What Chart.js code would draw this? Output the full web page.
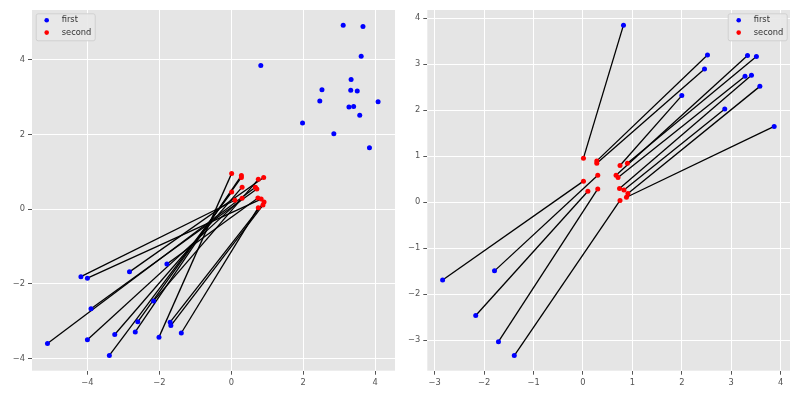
<!DOCTYPE html>
<html>
<head>
<meta charset="utf-8">
<script src="https://cdn.jsdelivr.net/npm/chart.js@4.4.0/dist/chart.umd.min.js"></script>
<style>
  body { margin: 0; background: #fff; }
  .box { position: absolute; top: 0; width: 400px; height: 400px; }
</style>
</head>
<body>
<div class="box" style="left:0"><canvas id="leftChart"></canvas></div>
<div class="box" style="left:400px"><canvas id="rightChart"></canvas></div>
<script>
// "first" points: cluster up right (not matched in the left plot)
const upperX = [3.11, 3.66, 3.61, 0.82, 2.52, 3.33, 3.32, 3.50, 2.46, 3.27, 3.40, 4.08, 1.98, 3.57, 2.85, 3.84];
const upperY = [4.93, 4.90, 4.10, 3.85, 3.20, 3.48, 3.19, 3.17, 2.90, 2.74, 2.75, 2.88, 2.31, 2.52, 2.02, 1.65];

// "second" points (same in both plots)
const secondX = [0.01, 0.28, 0.28, 0.75, 0.90, 0.30, 0.67, 0.71, 0.01, 0.10, 0.30, 0.74, 0.83, 0.91, 0.88, 0.75];
const secondY = [0.96, 0.90, 0.85, 0.80, 0.85, 0.59, 0.59, 0.54, 0.46, 0.24, 0.29, 0.30, 0.27, 0.19, 0.11, 0.04];

// left plot: lower "first" points, index i is joined to second[i]
const leftLowX = [-2.01, -2.67, -2.60, -2.16, -2.83, -3.24, -5.11, -3.90, -3.39, -4.18, -4.00, -1.79, -4.00, -1.70, -1.68, -1.39];
const leftLowY = [-3.43, -3.29, -3.02, -2.46, -1.68, -3.36, -3.60, -2.67, -3.92, -1.81, -3.50, -1.47, -1.85, -3.03, -3.12, -3.32];

// right plot: "first" points, index i is joined to second[i]
const rightFirstX = [0.82, 2.52, 2.46, 2.00, 3.51, -1.79, 3.33, 3.28, -2.84, -2.17, -1.71, 3.41, 2.87, 3.58, 3.87, -1.39];
const rightFirstY = [3.85, 3.20, 2.90, 2.32, 3.17, -1.49, 3.19, 2.74, -1.69, -2.46, -3.03, 2.76, 2.03, 2.52, 1.65, -3.33];

const leftXTicks = [-4, -2, 0, 2, 4];
const leftYTicks = [-4, -2, 0, 2, 4];
const rightXTicks = [-3, -2, -1, 0, 1, 2, 3, 4];
const rightYTicks = [-3, -2, -1, 0, 1, 2, 3, 4];

const FONT = 'DejaVu Sans';

function toPoints(xs, ys) {
    return xs.map((x, i) => ({ x: x, y: ys[i] }));
}

// grey panel behind the plot area
const panelBg = {
    id: 'panelBg',
    beforeDraw(chart) {
        const a = chart.chartArea, ctx = chart.ctx;
        ctx.save();
        ctx.fillStyle = '#e5e5e5';
        ctx.fillRect(a.left, a.top, a.right - a.left, a.bottom - a.top);
        ctx.restore();
    }
};

// legend drawn inside the axes, like matplotlib
const insideLegend = {
    id: 'insideLegend',
    afterDraw(chart, args, opts) {
        const a = chart.chartArea, ctx = chart.ctx;
        const items = chart.data.datasets.filter(d => d.label);
        const w = 59, h = 27;
        const x = opts.side === 'left' ? a.left + 3.7 : a.right - 3.3 - w;
        const y = a.top + 3.3;
        ctx.save();
        ctx.fillStyle = 'rgba(232,232,232,0.9)';
        ctx.strokeStyle = '#d0d0d0';
        ctx.lineWidth = 1;
        ctx.beginPath();
        ctx.roundRect(x + 0.5, y + 0.5, w, h, 2);
        ctx.fill();
        ctx.stroke();
        ctx.font = '8.3px "' + FONT + '"';
        ctx.textBaseline = 'middle';
        items.forEach((d, i) => {
            const cy = y + 7 + i * 12.3;
            ctx.fillStyle = d.backgroundColor;
            ctx.beginPath();
            ctx.arc(x + 11, cy, 2.3, 0, Math.PI * 2);
            ctx.fill();
            ctx.fillStyle = '#333';
            ctx.fillText(d.label, x + 26, cy);
        });
        ctx.restore();
    }
};

function axis(min, max, ticks, size, isX) {
    return {
        type: 'linear',
        min: min,
        max: max,
        afterBuildTicks: s => { s.ticks = ticks.map(v => ({ value: v })); },
        afterFit: s => { if (isX) s.height = size; else s.width = size; },
        grid: { color: '#ffffff', lineWidth: 1, tickColor: '#555', tickLength: 4 },
        border: { display: false },
        ticks: {
            color: '#555',
            padding: 3,
            font: { family: FONT, size: 8.3 },
            callback: v => String(v).replace('-', '\u2212')
        }
    };
}

function renderChart(canvasId, firstPts, pairFirstX, pairFirstY, cfg) {
    const ctx = document.getElementById(canvasId).getContext('2d');
    const datasets = [];
    // black segments between matched points
    pairFirstX.forEach((x, i) => {
        datasets.push({
            data: [{ x: x, y: pairFirstY[i] }, { x: secondX[i], y: secondY[i] }],
            showLine: true,
            borderColor: '#000',
            borderWidth: 1.3,
            pointRadius: 0,
            order: 3
        });
    });
    datasets.push({
        label: 'first',
        data: firstPts,
        backgroundColor: '#0000ff',
        borderColor: '#0000ff',
        pointRadius: 2.5,
        borderWidth: 0,
        order: 1
    });
    datasets.push({
        label: 'second',
        data: toPoints(secondX, secondY),
        backgroundColor: '#ff0000',
        borderColor: '#ff0000',
        pointRadius: 2.5,
        borderWidth: 0,
        order: 2
    });

    return new Chart(ctx, {
        type: 'scatter',
        data: { datasets: datasets },
        options: {
            responsive: true,
            maintainAspectRatio: false,
            animation: false,
            layout: { padding: cfg.padding },
            scales: {
                x: axis(cfg.xMin, cfg.xMax, cfg.xTicks, 29.3, true),
                y: axis(cfg.yMin, cfg.yMax, cfg.yTicks, cfg.yWidth, false)
            },
            plugins: {
                legend: { display: false },
                tooltip: { enabled: false },
                insideLegend: { side: cfg.legendSide }
            }
        },
        plugins: [panelBg, insideLegend]
    });
}

renderChart('leftChart',
    toPoints(upperX.concat(leftLowX), upperY.concat(leftLowY)),
    leftLowX, leftLowY,
    {
        xMin: -5.54, xMax: 4.55, yMin: -4.33, yMax: 5.34,
        xTicks: leftXTicks, yTicks: leftYTicks,
        yWidth: 32, padding: { top: 10, right: 5, left: 0, bottom: 0 },
        legendSide: 'left'
    });

renderChart('rightChart',
    toPoints(rightFirstX, rightFirstY),
    rightFirstX, rightFirstY,
    {
        xMin: -3.15, xMax: 4.19, yMin: -3.66, yMax: 4.18,
        xTicks: rightXTicks, yTicks: rightYTicks,
        yWidth: 27.3, padding: { top: 10, right: 10, left: 0, bottom: 0 },
        legendSide: 'right'
    });
</script>
</body>
</html>
